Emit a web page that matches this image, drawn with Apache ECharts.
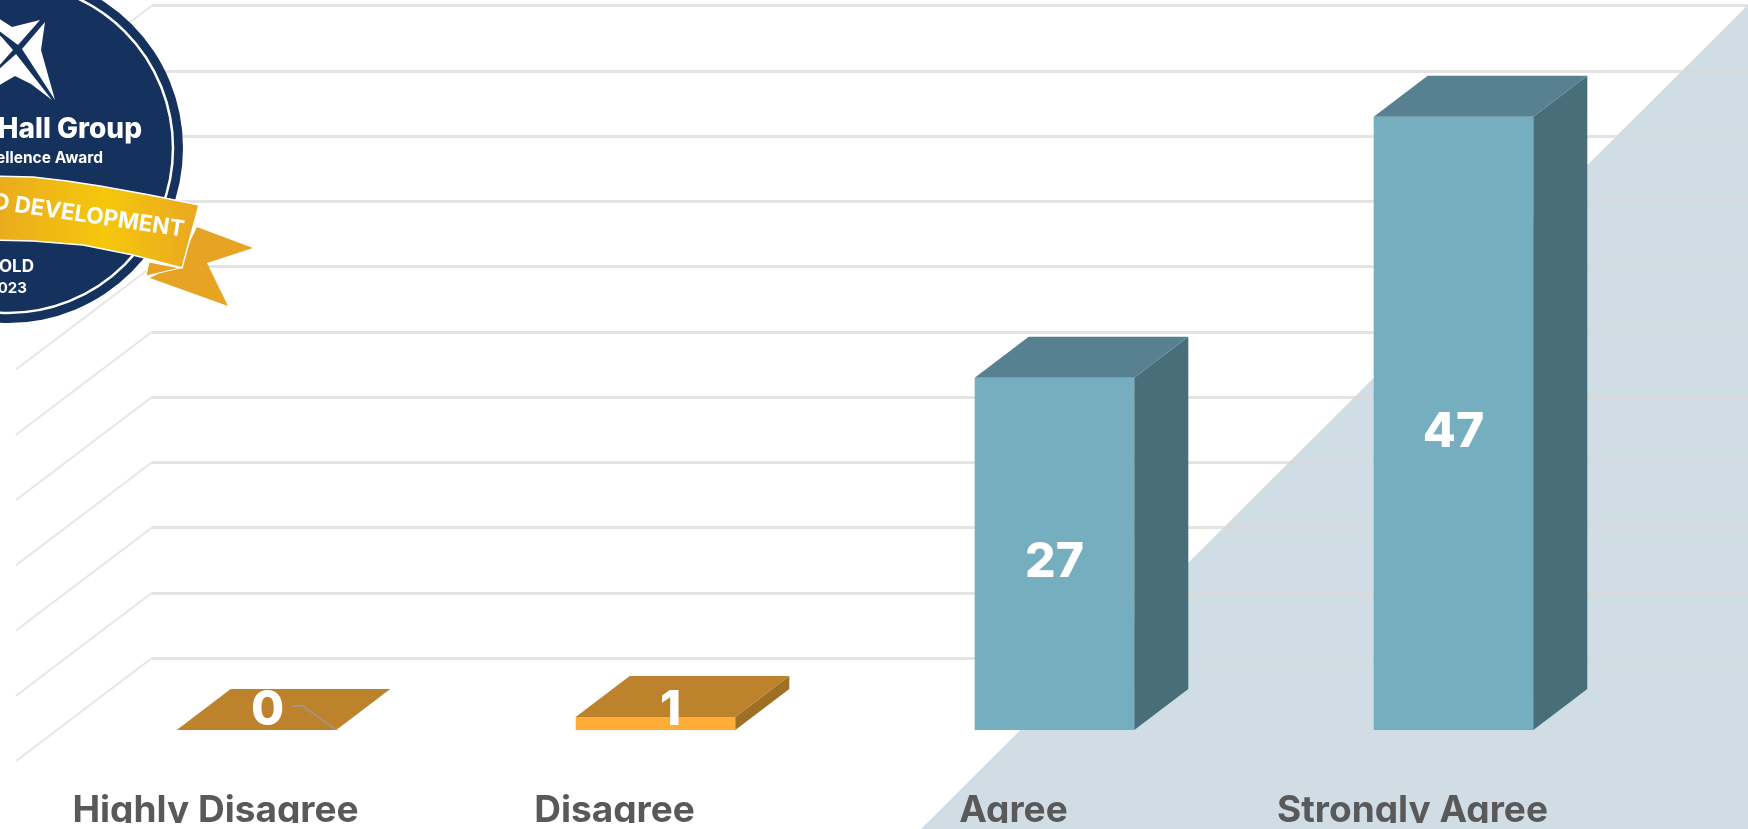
<!DOCTYPE html>
<html>
<head>
<meta charset="utf-8">
<style>html,body{margin:0;padding:0;background:#fff;overflow:hidden}#c{width:1748px;height:829px}</style>
<script src="https://cdn.jsdelivr.net/npm/echarts@6/dist/echarts.min.js"></script>
</head>
<body>
<div id="c"></div>
<script>
// --- data ---
var categories = ['Highly Disagree', 'Disagree', 'Agree', 'Strongly Agree'];
var responses = [0, 1, 27, 47];
var wallTicks = [0, 5, 10, 15, 20, 25, 30, 35, 40, 45, 50];

// --- style ---
var frontColors = ['#ffac38', '#ffac38', '#74aebf', '#74aebf'];
var topColors = ['#bd822c', '#bd822c', '#578090', '#578090'];
var sideColors = ['#9f6f25', '#9f6f25', '#486e79', '#486e79'];
var DEPTH_X = 54, DEPTH_Y = 41;
var navy = '#15325f';
var sans = 'Inter, Lato, sans-serif';

function renderWall(params, api) {
  var p = api.coord([0, api.value(0)]);
  var x = p[0] - api.size([1, 0])[0] / 2;
  return {
    type: 'line',
    shape: { x1: x, y1: p[1], x2: x - 136, y2: p[1] + 103 },
    style: { stroke: '#e6e6e6', lineWidth: 2 }
  };
}

function renderBar(params, api) {
  var i = api.value(0), v = api.value(1);
  var top = api.coord([i, v]), base = api.coord([i, 0]);
  var w = api.size([1, 0])[0] * 0.4;
  var l = top[0] - w / 2, r = top[0] + w / 2;
  var kids = [];
  if (base[1] - top[1] > 0) {
    kids.push({ type: 'polygon', shape: { points: [[l, top[1]], [r, top[1]], [r, base[1]], [l, base[1]]] },
      style: { fill: frontColors[i] } });
    kids.push({ type: 'polygon', shape: { points: [[r, top[1]], [r + DEPTH_X, top[1] - DEPTH_Y], [r + DEPTH_X, base[1] - DEPTH_Y], [r, base[1]]] },
      style: { fill: sideColors[i] } });
  }
  kids.push({ type: 'polygon', shape: { points: [[l, top[1]], [l + DEPTH_X, top[1] - DEPTH_Y], [r + DEPTH_X, top[1] - DEPTH_Y], [r, top[1]]] },
    style: { fill: topColors[i] } });
  var small = v < 5;
  var lx = top[0] + (small ? 11 + 4 * v : 0);
  var ly = small ? base[1] - 19 : (top[1] + base[1]) / 2 + 9;
  if (v === 0) {
    kids.push({ type: 'polyline', shape: { points: [[lx + 24, ly - 5], [lx + 35, ly - 5], [r, base[1]]] },
      style: { stroke: '#9a9a9a', lineWidth: 1.5, fill: 'none' } });
  }
  kids.push({ type: 'text', x: lx, y: ly, style: { text: String(v), fill: '#fff', font: '800 48px ' + sans, align: 'center', verticalAlign: 'middle' } });
  return { type: 'group', children: kids };
}

function poly(points, fill, z, extra) {
  var st = { fill: fill };
  if (extra) for (var k in extra) st[k] = extra[k];
  return { type: 'polygon', z: z, shape: { points: points }, style: st };
}
function label(text, x, y, font, fill, z, rot) {
  return { type: 'text', z: z, x: x, y: y, rotation: rot || 0,
    style: { text: text, font: font, fill: fill, textAlign: 'right', textVerticalAlign: 'middle' } };
}

var graphicEls = [
  // background diagonal panel (behind grid lines)
  poly([[1748, 5], [1748, 829], [921, 829]], '#d0dde5', -1),
  // strip that cuts off the category labels at the lower edge
  poly([[0, 823], [927, 823], [921, 829], [0, 829]], '#ffffff', 20),
  poly([[927, 823], [1748, 823], [1748, 829], [921, 829]], '#d0dde5', 20),
  // award badge
  { type: 'circle', z: 30, shape: { cx: 8, cy: 148, r: 175 }, style: { fill: navy } },
  { type: 'circle', z: 31, shape: { cx: 8, cy: 148, r: 165 }, style: { fill: 'none', stroke: '#fff', lineWidth: 2.5 } },
  poly([[-2, 18], [12, 27], [40, 20], [18, 45], [-2, 30]], '#fff', 32),
  poly([[45, 22], [22, 49], [55, 100], [41, 50]], '#fff', 32),
  poly([[16, 54], [52, 100], [31, 84], [15, 76], [-2, 86], [-2, 70]], '#fff', 32),
  poly([[-2, 33], [13, 50], [-2, 67]], '#fff', 32),
  label('Hall Group', 142, 130, '800 28px ' + sans, '#fff', 33),
  label('Excellence Award', 103, 158, '700 15.5px ' + sans, '#fff', 33),
  label('GOLD', 34, 267, '700 17px ' + sans, '#fff', 33),
  label('2023', 27, 288, '700 15px ' + sans, '#fff', 33),
  poly([[197, 227], [253, 248], [207, 263], [228, 306], [150, 278], [180, 262]], '#e6a324', 34),
  poly([[149, 262], [146, 276], [180, 268]], '#e6a324', 34, { stroke: '#fff', lineWidth: 1 }),
  {
    type: 'polygon', z: 35,
    shape: { points: [[-10, 176], [33, 177], [67, 181], [100, 186], [150, 195], [199, 205], [182, 268], [133, 255], [83, 245], [33, 241], [-10, 240]] },
    style: { stroke: '#fff', lineWidth: 1.5,
      fill: { type: 'linear', x: 0, y: 0, x2: 1, y2: 0, colorStops: [{ offset: 0, color: '#e9a91f' }, { offset: 0.55, color: '#f5c70c' }, { offset: 1, color: '#eaa722' }] } }
  },
  label('D DEVELOPMENT', 184, 230, '700 22.5px ' + sans, '#fff', 36, -8.4 * Math.PI / 180)
];

var chart = echarts.init(document.getElementById('c'), null, { renderer: 'canvas' });
var option = {
  animation: false,
  backgroundColor: '#ffffff',
  grid: [
    { left: 152, top: 5.5, width: 1596, height: 652.5, show: false },   // back wall
    { left: 57, top: 77.5, width: 1596, height: 652.5, show: false },   // plane of the bars
    { left: 16, top: 108, width: 1596, height: 652.5, show: false }     // front edge of the floor
  ],
  xAxis: [
    { gridIndex: 0, type: 'category', data: categories, show: false },
    { gridIndex: 1, type: 'category', data: categories, show: false },
    { gridIndex: 2, type: 'category', data: categories,
      axisLine: { show: false }, axisTick: { show: false },
      axisLabel: { color: '#595959', fontFamily: sans, fontWeight: 700, fontSize: 37, margin: 32, interval: 0 } }
  ],
  yAxis: [
    { gridIndex: 0, type: 'value', min: 0, max: 50, interval: 5,
      axisLine: { show: false }, axisTick: { show: false }, axisLabel: { show: false },
      splitLine: { show: true, lineStyle: { color: 'rgba(216,216,216,0.7)', width: 3 } } },
    { gridIndex: 1, type: 'value', min: 0, max: 50, interval: 5, show: false, splitLine: { show: false } },
    { gridIndex: 2, type: 'value', min: 0, max: 50, interval: 5, show: false, splitLine: { show: false } }
  ],
  tooltip: { show: false },
  graphic: { elements: graphicEls },
  series: [
    { type: 'custom', name: 'wall', xAxisIndex: 0, yAxisIndex: 0, silent: true,
      data: wallTicks.map(function (t) { return [t]; }), encode: { y: 0 }, renderItem: renderWall, z: 1 },
    { type: 'custom', name: 'Responses', xAxisIndex: 1, yAxisIndex: 1, silent: true,
      data: categories.map(function (c, i) { return [i, responses[i]]; }), encode: { x: 0, y: 1 }, renderItem: renderBar, z: 3 },
    { type: 'custom', name: 'floor', xAxisIndex: 2, yAxisIndex: 2, silent: true, data: [],
      renderItem: function () { return null; } }
  ]
};
chart.setOption(option);
</script>
</body>
</html>
